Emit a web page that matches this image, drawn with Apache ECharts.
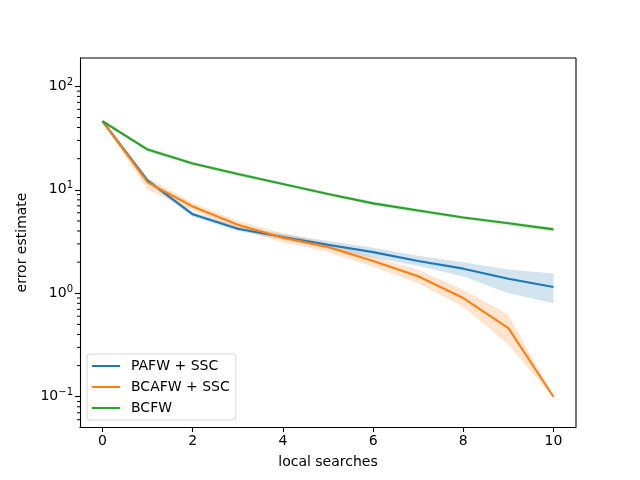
<!DOCTYPE html>
<html>
<head>
<meta charset="utf-8">
<script src="https://cdn.jsdelivr.net/npm/echarts@6/dist/echarts.min.js"></script>
<style>
  html, body { margin: 0; padding: 0; background: #fff; }
  #chart { width: 640px; height: 480px; }
</style>
</head>
<body>
<div id="chart"></div>
<script>
// local searches
var steps = [0, 1, 2, 3, 4, 5, 6, 7, 8, 9, 10];

// PAFW + SSC
var pafwMean  = [46, 12.3, 5.8, 4.2, 3.5, 2.95, 2.5, 2.05, 1.73, 1.38, 1.15];
var pafwLow   = [45, 11.6, 5.5, 4.0, 3.3, 2.7, 2.2, 1.85, 1.45, 1.0, 0.8];
var pafwHigh  = [47, 13.0, 6.1, 4.45, 3.75, 3.2, 2.75, 2.3, 2.0, 1.7, 1.55];

// BCAFW + SSC
var bcafwMean = [46, 11.8, 6.9, 4.6, 3.45, 2.8, 2.05, 1.46, 0.9, 0.46, 0.1];
var bcafwLow  = [45, 10.0, 6.3, 4.2, 3.1, 2.5, 1.8, 1.25, 0.74, 0.32, 0.098];
var bcafwHigh = [47, 13.0, 7.5, 5.0, 3.8, 3.05, 2.25, 1.69, 1.08, 0.62, 0.102];

// BCFW
var bcfwMean  = [46, 24.5, 18, 14.2, 11.4, 9.1, 7.4, 6.3, 5.4, 4.75, 4.15];
var bcfwLow   = [45, 23.4, 17.3, 13.6, 11.0, 8.75, 7.1, 6.05, 5.2, 4.55, 3.98];
var bcfwHigh  = [47, 25.7, 18.7, 14.8, 11.8, 9.45, 7.7, 6.55, 5.6, 4.95, 4.32];

var xTicks = [0, 2, 4, 6, 8, 10];
var yTicks = [0.1, 1, 10, 100];
var yMinor = [0.06, 0.07, 0.08, 0.09, 0.2, 0.3, 0.4, 0.5, 0.6, 0.7, 0.8, 0.9,
              2, 3, 4, 5, 6, 7, 8, 9, 20, 30, 40, 50, 60, 70, 80, 90];

var colors = ['#1f77b4', '#ff7f0e', '#2ca02c'];
var fontFam = 'DejaVu Sans';
var xMin = -0.5, xMax = 10.5, yMin = 0.051, yMax = 188;

function pairs(arr) {
    return steps.map(function (s, i) { return [s, arr[i]]; });
}

function lineSeries(name, arr, color) {
    return {
        name: name,
        type: 'line',
        data: pairs(arr),
        showSymbol: false,
        symbol: 'none',
        lineStyle: { color: color, width: 2.1 },
        itemStyle: { color: color },
        z: 5,
        animation: false
    };
}

// shaded band between lo and hi (like fill_between)
function bandSeries(key, lo, hi, color) {
    return {
        name: key + '_band',
        type: 'custom',
        data: steps.map(function (s, i) { return [s, lo[i], hi[i]]; }),
        encode: { x: 0, y: [1, 2] },
        silent: true,
        clip: true,
        z: 2,
        renderItem: function (params, api) {
            if (params.dataIndex !== 0) return;
            var pts = [];
            for (var i = 0; i < steps.length; i++) pts.push(api.coord([steps[i], hi[i]]));
            for (var j = steps.length - 1; j >= 0; j--) pts.push(api.coord([steps[j], lo[j]]));
            return {
                type: 'polygon',
                shape: { points: pts },
                style: { fill: color, opacity: 0.2 }
            };
        },
        animation: false
    };
}

var supMap = { '-': '\u2212' };

var myChart = echarts.init(document.getElementById('chart'));

option = {
    backgroundColor: '#fff',
    animation: false,
    color: colors,
    grid: { left: 80, right: 64, top: 58, bottom: 53, containLabel: false },
    legend: {
        orient: 'vertical',
        left: 87,
        top: 354,
        data: ['PAFW + SSC', 'BCAFW + SSC', 'BCFW'],
        icon: 'path://M0,0 L28,0 L28,2 L0,2 Z',
        itemWidth: 28,
        itemHeight: 2,
        itemGap: 7,
        padding: [5, 6, 5, 5],
        borderColor: '#d6d6d6',
        borderWidth: 1,
        borderRadius: 3,
        backgroundColor: 'rgba(255,255,255,0.8)',
        textStyle: {
            fontFamily: fontFam,
            fontSize: 14,
            color: '#000',
            padding: [0, 0, 0, 6],
            height: 14,
            lineHeight: 14
        }
    },
    xAxis: {
        type: 'value',
        min: xMin,
        max: xMax,
        name: 'local searches',
        nameLocation: 'middle',
        nameGap: 28,
        nameTextStyle: { fontFamily: fontFam, fontSize: 14, color: '#000' },
        axisLine: { show: true, onZero: false, lineStyle: { color: '#000', width: 1.1 } },
        axisTick: { show: true, length: 5, customValues: xTicks, lineStyle: { color: '#000', width: 1.1 } },
        axisLabel: { customValues: xTicks, fontFamily: fontFam, fontSize: 14, color: '#000', margin: 7 },
        splitLine: { show: false }
    },
    yAxis: {
        type: 'log',
        logBase: 10,
        min: yMin,
        max: yMax,
        name: 'error estimate',
        nameLocation: 'middle',
        nameGap: 46,
        nameRotate: 90,
        nameTextStyle: { fontFamily: fontFam, fontSize: 14, color: '#000' },
        axisLine: { show: true, onZero: false, lineStyle: { color: '#000', width: 1.1 } },
        axisTick: { show: true, length: 5, customValues: yTicks, lineStyle: { color: '#000', width: 1.1 } },
        axisLabel: {
            customValues: yTicks,
            margin: 7,
            fontFamily: fontFam,
            fontSize: 14,
            color: '#000',
            formatter: function (v) {
                var e = Math.round(Math.log10(v));
                var s = String(e).split('').map(function (c) { return supMap[c] || c; }).join('');
                return '10{sup|' + s + '}';
            },
            rich: {
                sup: { fontFamily: fontFam, fontSize: 10, verticalAlign: 'top', padding: [0, 0, 8, 0], color: '#000' }
            }
        },
        splitLine: { show: false }
    },
    series: [
        bandSeries('pafw', pafwLow, pafwHigh, colors[0]),
        bandSeries('bcafw', bcafwLow, bcafwHigh, colors[1]),
        bandSeries('bcfw', bcfwLow, bcfwHigh, colors[2]),
        lineSeries('PAFW + SSC', pafwMean, colors[0]),
        lineSeries('BCAFW + SSC', bcafwMean, colors[1]),
        lineSeries('BCFW', bcfwMean, colors[2])
    ]
};

myChart.setOption(option);

// frame (top/right) and minor log ticks, placed through the chart's own scales
var corner0 = myChart.convertToPixel({ gridIndex: 0 }, [xMin, yMin]);
var corner1 = myChart.convertToPixel({ gridIndex: 0 }, [xMax, yMax]);
var extras = [
    { type: 'line', shape: { x1: corner0[0], y1: corner1[1], x2: corner1[0], y2: corner1[1] }, style: { stroke: '#000', lineWidth: 1.1 }, z: 10 },
    { type: 'line', shape: { x1: corner1[0], y1: corner1[1], x2: corner1[0], y2: corner0[1] }, style: { stroke: '#000', lineWidth: 1.1 }, z: 10 }
];
yMinor.forEach(function (v) {
    var p = myChart.convertToPixel({ gridIndex: 0 }, [xMin, v]);
    extras.push({
        type: 'line',
        shape: { x1: p[0] - 3, y1: p[1], x2: p[0], y2: p[1] },
        style: { stroke: '#000', lineWidth: 1 },
        z: 10
    });
});
myChart.setOption({ graphic: extras });
</script>
</body>
</html>
